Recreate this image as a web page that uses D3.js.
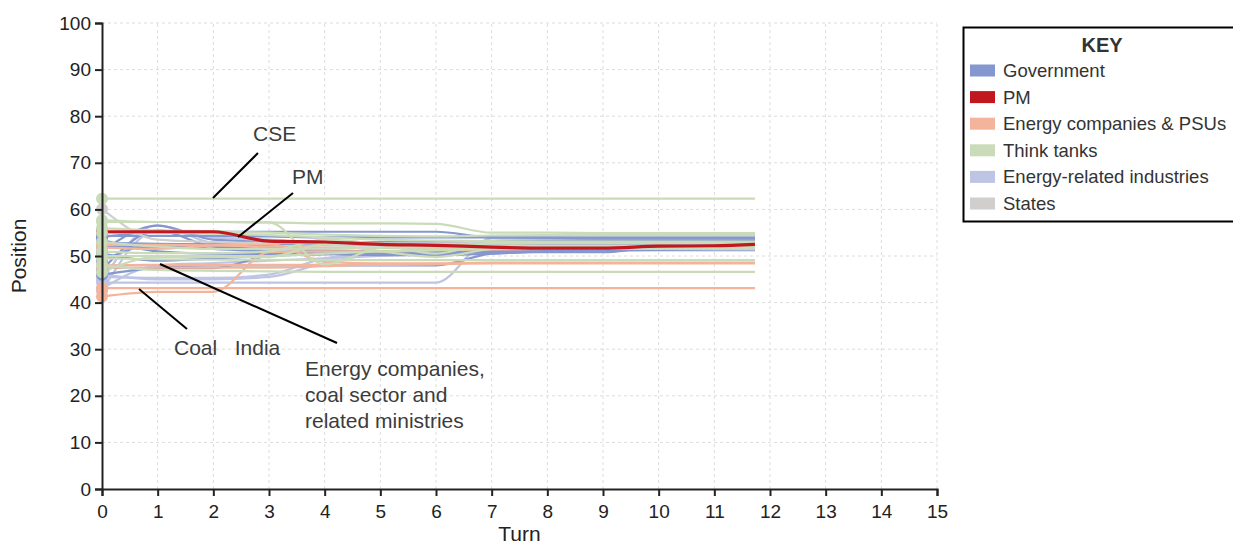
<!DOCTYPE html>
<html>
<head>
<meta charset="utf-8">
<script src="https://cdn.jsdelivr.net/npm/d3@7"></script>
<style>
  html, body { margin: 0; padding: 0; background: #fff; }
  svg { display: block; font-family: "Liberation Sans", Arial, Helvetica, sans-serif; }
</style>
</head>
<body>
<svg id="chart" width="1233" height="546"></svg>
<script>
// Turns at which each actor's position is recorded
const turns = [0, 1, 2, 3, 4, 5, 6, 7, 8, 9, 10, 11, 11.73];

const xTicks = d3.range(0, 16);
const yTicks = d3.range(0, 101, 10);

const groupNames = ["Government", "PM", "Energy companies & PSUs", "Think tanks", "Energy-related industries", "States"];
const groupColors = ["#8497cf", "#c1171e", "#f3b49b", "#c9dbb8", "#bec4e3", "#d0cfcd"];

// Positions per actor, one row per actor, one value per turn
const governmentSeries = [
  [54.3, 54.3, 54.3, 54.2, 54.0, 54.0, 54.0, 54.0, 53.9, 53.8, 53.8, 53.8, 53.8],
  [54.0, 55.2, 55.2, 55.2, 55.2, 55.2, 55.2, 54.0, 54.0, 54.0, 54.0, 54.0, 54.0],
  [51.0, 56.5, 53.5, 53.0, 52.8, 52.6, 52.5, 52.4, 52.4, 52.4, 52.4, 52.4, 52.4],
  [47.0, 55.5, 52.0, 51.5, 51.2, 51.0, 51.0, 51.2, 51.5, 51.8, 52.0, 52.0, 52.0],
  [53.5, 51.0, 50.5, 50.4, 50.4, 50.4, 50.6, 50.8, 50.8, 50.8, 52.0, 52.2, 52.2],
  [47.5, 47.4, 47.4, 50.0, 50.5, 51.0, 51.2, 51.3, 51.5, 51.5, 51.5, 51.5, 51.5],
  [52.0, 51.8, 52.2, 52.5, 52.8, 53.0, 53.0, 53.2, 53.3, 53.3, 53.3, 53.3, 53.3],
  [50.5, 49.0, 49.5, 50.0, 50.4, 50.5, 50.8, 51.0, 51.2, 51.5, 51.8, 52.0, 52.0],
  [49.0, 52.5, 51.5, 51.0, 50.5, 50.2, 50.2, 50.5, 51.0, 51.2, 51.4, 51.5, 51.5],
  [46.0, 47.5, 48.0, 48.0, 48.0, 48.0, 48.0, 50.5, 51.0, 51.2, 51.3, 51.4, 51.4],
  [52.8, 52.6, 52.5, 52.0, 51.0, 50.8, 50.8, 51.5, 52.0, 52.2, 52.3, 52.3, 52.3]
];
const pmSeries = [
  [55.2, 55.2, 55.2, 53.2, 53.0, 52.5, 52.3, 51.9, 51.7, 51.7, 52.1, 52.2, 52.5]
];
const energyCompanySeries = [
  [41.3, 42.3, 42.3, 50.8, 51.0, 51.0, 51.2, 51.4, 51.5, 51.5, 51.5, 51.5, 51.5],
  [43.1, 43.1, 43.1, 43.1, 43.1, 43.1, 43.1, 43.1, 43.1, 43.1, 43.1, 43.1, 43.1],
  [52.4, 52.4, 52.3, 52.0, 51.8, 51.7, 51.7, 51.7, 51.7, 51.7, 51.7, 51.7, 51.7],
  [48.0, 48.1, 48.1, 48.1, 48.1, 48.1, 48.2, 48.6, 48.6, 48.6, 48.6, 48.6, 48.6],
  [47.5, 47.5, 47.5, 47.5, 47.8, 48.2, 48.3, 48.5, 48.5, 48.5, 48.5, 48.5, 48.5],
  [51.8, 51.5, 52.3, 52.6, 48.8, 48.4, 48.4, 48.4, 48.4, 48.4, 48.4, 48.4, 48.4]
];
const thinkTankSeries = [
  [62.3, 62.3, 62.3, 62.3, 62.3, 62.3, 62.3, 62.3, 62.3, 62.3, 62.3, 62.3, 62.3],
  [57.7, 57.3, 57.3, 57.2, 57.0, 57.0, 56.9, 55.0, 55.0, 54.9, 54.9, 54.9, 54.9],
  [57.3, 57.3, 57.3, 57.2, 48.2, 51.8, 52.5, 52.3, 52.2, 52.2, 52.2, 52.2, 52.2],
  [55.0, 55.0, 54.8, 54.5, 54.0, 53.5, 53.3, 53.2, 53.1, 53.1, 53.1, 53.1, 53.1],
  [53.0, 52.0, 51.5, 51.5, 51.6, 51.8, 51.8, 51.8, 51.8, 51.8, 51.8, 51.8, 51.8],
  [50.0, 50.0, 50.0, 50.0, 50.5, 51.0, 51.3, 51.5, 51.6, 51.6, 51.6, 51.6, 51.6],
  [49.5, 49.3, 49.2, 49.2, 49.1, 49.1, 49.1, 49.1, 49.1, 49.1, 49.1, 49.1, 49.1],
  [48.0, 47.0, 46.8, 46.7, 46.6, 46.6, 46.6, 46.6, 46.6, 46.6, 46.6, 46.6, 46.6],
  [46.5, 49.8, 49.8, 49.8, 52.5, 51.0, 49.8, 51.5, 52.0, 52.0, 52.0, 52.0, 52.0],
  [56.0, 55.5, 55.3, 55.0, 54.6, 54.3, 54.2, 54.4, 54.5, 54.5, 54.5, 54.5, 54.5],
  [51.0, 50.6, 50.6, 51.0, 53.5, 52.5, 50.5, 52.8, 52.8, 52.8, 52.8, 52.8, 52.8]
];
const energyIndustrySeries = [
  [44.3, 44.3, 44.3, 44.3, 44.3, 44.3, 44.3, 53.8, 53.8, 53.6, 53.5, 53.5, 53.5],
  [44.8, 56.6, 52.8, 52.5, 52.3, 52.2, 52.0, 52.0, 52.0, 52.0, 52.0, 52.0, 52.0],
  [45.5, 45.3, 45.3, 46.0, 49.5, 50.5, 51.0, 51.2, 51.3, 51.3, 51.3, 51.3, 51.3],
  [43.0, 48.0, 48.5, 49.0, 49.5, 50.0, 50.5, 51.0, 51.3, 51.5, 51.5, 51.5, 51.5],
  [42.5, 55.5, 54.0, 53.5, 53.0, 52.8, 52.5, 52.5, 52.5, 52.5, 52.5, 52.5, 52.5],
  [46.0, 45.0, 45.0, 45.5, 48.5, 50.5, 51.0, 51.2, 51.2, 51.2, 51.2, 51.2, 51.2]
];
const stateSeries = [
  [60.1, 53.5, 53.0, 52.8, 52.8, 52.7, 52.7, 52.7, 52.7, 52.7, 52.7, 52.7, 52.7]
];

// Annotation labels and the points their leader lines join
const annotationTexts = [
  { lines: ["CSE"], tx: 253, ty: 141, from: [258, 153], to: [213, 198] },
  { lines: ["PM"], tx: 292, ty: 184, from: [293, 193], to: [238, 237] },
  { lines: ["Coal   India"], tx: 174, ty: 355, from: [187, 329], to: [139, 289] },
  { lines: ["Energy companies,", "coal sector and", "related ministries"], tx: 305, ty: 376, from: [337, 343], to: [160, 264] }
];

const svg = d3.select("#chart");
const margin = { left: 102, top: 23, right: 296, bottom: 57 };
const W = 1233, H = 546;

const x = d3.scaleLinear().domain([0, 15]).range([margin.left, W - margin.right]);
const y = d3.scaleLinear().domain([0, 100]).range([H - margin.bottom, margin.top]);

// Dashed grid
const grid = svg.append("g").attr("stroke", "#dcdcdc").attr("stroke-dasharray", "3,3").attr("stroke-width", 1);
grid.selectAll("line.h").data(yTicks.filter(d => d > 0)).join("line")
  .attr("x1", x(0)).attr("x2", x(15)).attr("y1", d => y(d)).attr("y2", d => y(d));
grid.selectAll("line.v").data(xTicks.filter(d => d > 0)).join("line")
  .attr("y1", y(0)).attr("y2", y(100)).attr("x1", d => x(d)).attr("x2", d => x(d));

// Series, drawn group by group so the PM line sits on top
const layers = [
  { series: energyIndustrySeries, g: 4, w: 2.2 },
  { series: governmentSeries, g: 0, w: 2.2 },
  { series: energyCompanySeries, g: 2, w: 2.2 },
  { series: stateSeries, g: 5, w: 2.2 },
  { series: thinkTankSeries, g: 3, w: 2.2 },
  { series: pmSeries, g: 1, w: 3.2 }
];

const line = d3.line()
  .x((d, i) => x(turns[i]))
  .y(d => y(d))
  .curve(d3.curveMonotoneX);

const linesG = svg.append("g").attr("fill", "none");
layers.forEach(L => {
  linesG.append("g").selectAll("path").data(L.series).join("path")
    .attr("d", line)
    .attr("stroke", groupColors[L.g])
    .attr("stroke-width", L.w);
});

// Starting positions
const dotOrder = [layers[5], layers[0], layers[1], layers[2], layers[3], layers[4]];
const dotsG = svg.append("g");
dotOrder.forEach(L => {
  dotsG.append("g").selectAll("circle").data(L.series).join("circle")
    .attr("cx", x(turns[0]))
    .attr("cy", d => y(d[0]))
    .attr("r", 6)
    .attr("fill", groupColors[L.g]);
});

// Axes
const yAxis = svg.append("g").attr("transform", `translate(${x(0)},0)`)
  .call(d3.axisLeft(y).tickValues(yTicks).tickSize(7).tickPadding(4));
const xAxis = svg.append("g").attr("transform", `translate(0,${y(0)})`)
  .call(d3.axisBottom(x).tickValues(xTicks).tickSize(7).tickPadding(9));
[yAxis, xAxis].forEach(a => {
  a.select(".domain").attr("stroke", "#222").attr("stroke-width", 2);
  a.selectAll(".tick line").attr("stroke", "#222").attr("stroke-width", 2);
  a.selectAll(".tick text").attr("fill", "#222").style("font-size", "19px")
    .style("font-family", "'Liberation Sans', Arial, sans-serif");
});

svg.append("text")
  .attr("transform", `translate(26,${(y(0) + y(100)) / 2}) rotate(-90)`)
  .attr("text-anchor", "middle")
  .attr("fill", "#222")
  .style("font-size", "21px")
  .text("Position");
svg.append("text")
  .attr("x", (x(0) + x(15)) / 2)
  .attr("y", 541)
  .attr("text-anchor", "middle")
  .attr("fill", "#222")
  .style("font-size", "21px")
  .text("Turn");

// Annotations
const ann = svg.append("g");
annotationTexts.forEach(a => {
  ann.append("line")
    .attr("x1", a.from[0]).attr("y1", a.from[1])
    .attr("x2", a.to[0]).attr("y2", a.to[1])
    .attr("stroke", "#000").attr("stroke-width", 2);
  const t = ann.append("text")
    .attr("x", a.tx).attr("y", a.ty)
    .attr("fill", "#3c3c3c")
    .style("font-size", "21px")
    .style("white-space", "pre")
    .attr("xml:space", "preserve");
  a.lines.forEach((s, i) => {
    t.append("tspan").attr("x", a.tx).attr("dy", i === 0 ? 0 : 26).text(s);
  });
});

// Key
const key = svg.append("g");
key.append("rect")
  .attr("x", 963.5).attr("y", 27.5).attr("width", 300).attr("height", 194)
  .attr("fill", "#fff").attr("stroke", "#000").attr("stroke-width", 2);
key.append("text")
  .attr("x", 1102).attr("y", 52)
  .attr("text-anchor", "middle")
  .attr("fill", "#333")
  .style("font-size", "20px").style("font-weight", "bold")
  .text("KEY");
const rowY = d3.scaleLinear().domain([0, 5]).range([70.5, 203.5]);
const rows = key.selectAll("g.row").data(groupNames).join("g")
  .attr("transform", (d, i) => `translate(0,${rowY(i)})`);
rows.append("rect")
  .attr("x", 970).attr("y", -6).attr("width", 25).attr("height", 12)
  .attr("fill", (d, i) => groupColors[i]);
rows.append("text")
  .attr("x", 1003).attr("y", 6.5)
  .attr("fill", "#333")
  .style("font-size", "18.5px")
  .text(d => d);
</script>
</body>
</html>
